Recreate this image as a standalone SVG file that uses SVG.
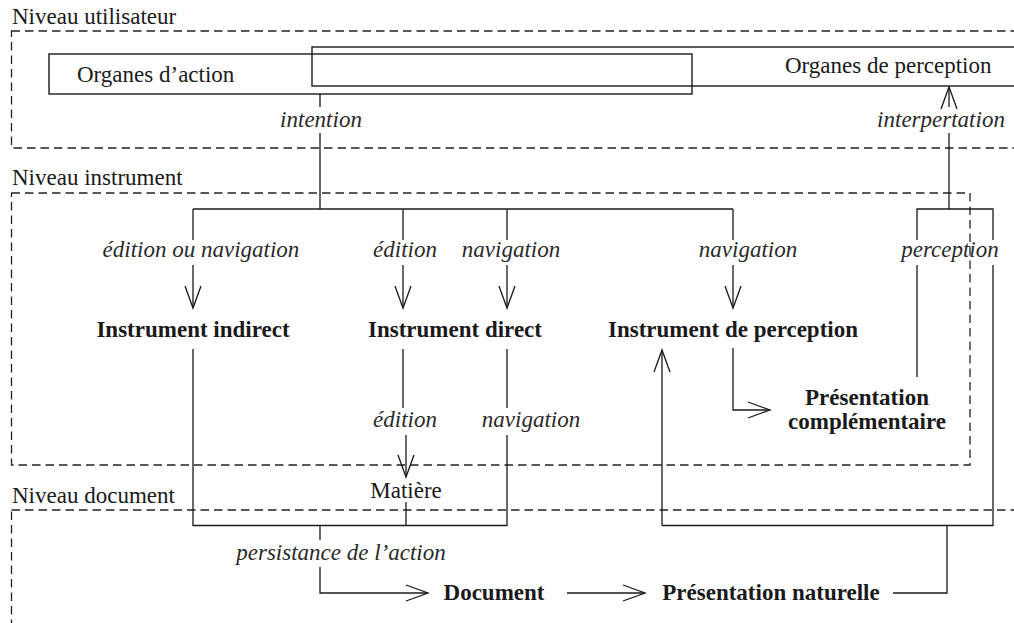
<svg xmlns="http://www.w3.org/2000/svg" width="1014" height="623" viewBox="0 0 1014 623">
<style>
text{font-family:"Liberation Serif","Times New Roman",serif;font-size:23px;fill:#1a1a1a}
.lvl{text-anchor:start}
.it{font-style:italic;text-anchor:middle;fill:#2a2a2a}
.b{font-weight:bold;text-anchor:middle}
.r{text-anchor:middle}
.dash{fill:none;stroke:#222;stroke-width:1.3;stroke-dasharray:8.5 5}
.box{fill:none;stroke:#1a1a1a;stroke-width:1.4}
.ln{fill:none;stroke:#1a1a1a;stroke-width:1.3}
.arr{marker-end:url(#ah)}
</style>
<defs>
<marker id="ah" viewBox="-24 -10 26 20" refX="0" refY="0" markerWidth="26" markerHeight="20" markerUnits="userSpaceOnUse" orient="auto">
<path d="M-22,-8 L0,0 L-22,8" fill="none" stroke="#1a1a1a" stroke-width="1.3"/>
</marker>
</defs>
<g id="levels">
<rect class="dash" x="11.5" y="31" width="1020" height="117"/>
<rect class="dash" x="11.5" y="193" width="958.5" height="272"/>
<rect class="dash" x="11.5" y="510" width="1020" height="200"/>
<text class="lvl" x="12" y="24">Niveau utilisateur</text>
<text class="lvl" x="12" y="185">Niveau instrument</text>
<text class="lvl" x="12" y="503">Niveau document</text>
</g>
<g id="connectors">
<path class="ln" d="M320,94 V107 M320,133 V209 M193,209 H733"/>
<path class="ln" d="M193,209 V240 M403,209 V240 M507,209 V240 M733,209 V240"/>
<path class="ln arr" d="M193,265 V308"/>
<path class="ln arr" d="M403,265 V308"/>
<path class="ln arr" d="M507,265 V308"/>
<path class="ln arr" d="M733,265 V308"/>
<path class="ln" d="M193,349 V525.5 H507 V435 M507,349 V408 M403,349 V408"/>
<path class="ln arr" d="M406,435 V477"/>
<path class="ln" d="M406,502 V525"/>
<path class="ln" d="M320,525 V540"/>
<path class="ln arr" d="M320,567 V593 H428"/>
<path class="ln arr" d="M567,593 H645"/>
<path class="ln" d="M893,593 H947 V525.5 M662,525.5 H993 V265 M993,240 V209 H917 V240 M917,265 V377"/>
<path class="ln arr" d="M662,525.5 V350"/>
<path class="ln" d="M949,209 V133"/>
<path class="ln arr" d="M949,107 V87"/>
<path class="ln arr" d="M733,348 V410 H770"/>
</g>
<g id="organes-action"><rect class="box" x="49" y="54" width="643" height="40"/><text x="77" y="82">Organes d’action</text></g>
<g id="organes-perception"><rect class="box" x="312" y="47" width="720" height="39"/><text x="785" y="73">Organes de perception</text></g>
<g id="labels">
<text class="it" x="321" y="127">intention</text>
<text class="it" x="941" y="127">interpertation</text>
<text class="it" x="201" y="257">édition ou navigation</text>
<text class="it" x="405" y="257">édition</text>
<text class="it" x="511" y="257">navigation</text>
<text class="it" x="748" y="257">navigation</text>
<text class="it" x="950" y="257">perception</text>
<text class="it" x="405" y="427">édition</text>
<text class="it" x="531" y="427">navigation</text>
<text class="it" x="341" y="560">persistance de l’action</text>
</g>
<g id="instrument-indirect"><text class="b" x="193" y="337">Instrument indirect</text></g>
<g id="instrument-direct"><text class="b" x="455" y="337">Instrument direct</text></g>
<g id="instrument-perception"><text class="b" x="733" y="337">Instrument de perception</text></g>
<g id="presentation-complementaire"><text class="b" x="867" y="405">Présentation</text><text class="b" x="867" y="429">complémentaire</text></g>
<g id="matiere"><text class="r" x="406" y="498">Matière</text></g>
<g id="document"><text class="b" x="494" y="600">Document</text></g>
<g id="presentation-naturelle"><text class="b" x="771" y="600">Présentation naturelle</text></g>
</svg>
